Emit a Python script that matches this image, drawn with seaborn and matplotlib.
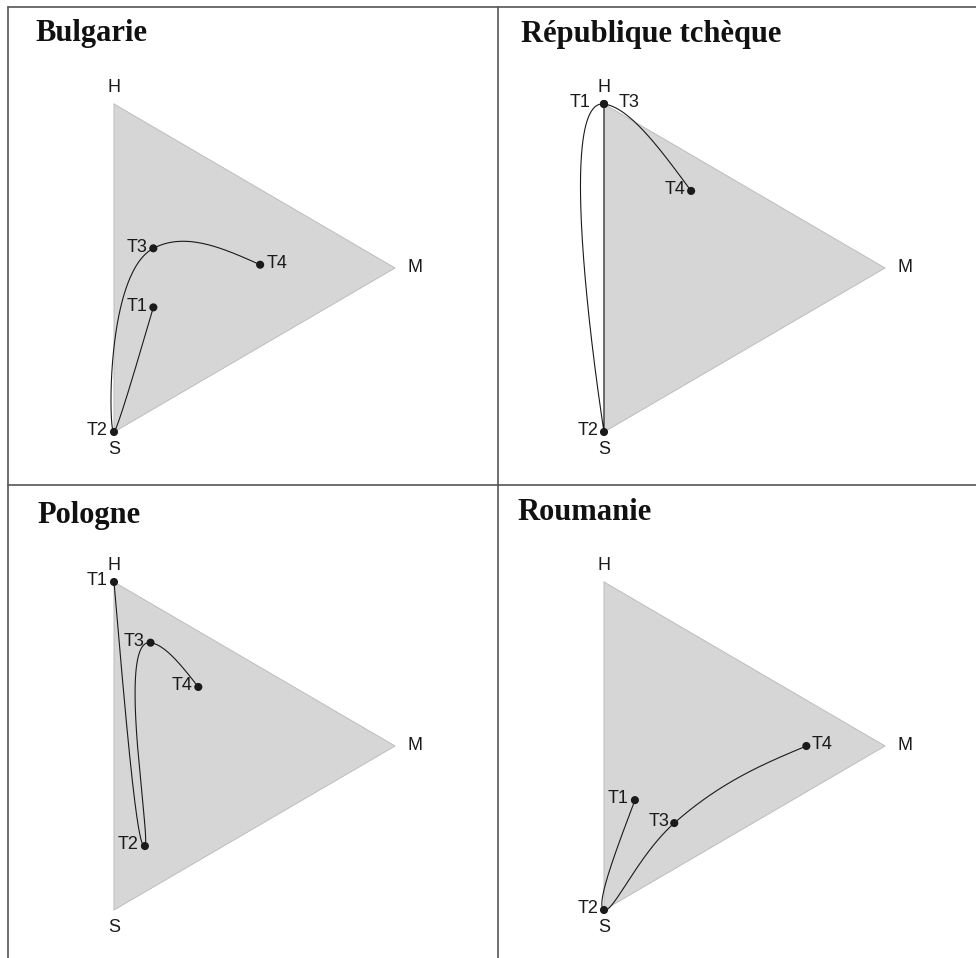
import numpy as np
import matplotlib
matplotlib.use('Agg')
import matplotlib.pyplot as plt
from matplotlib.lines import Line2D
import seaborn as sns

# Data: shares (%) of H, M and S at each survey wave
countries = ['Bulgarie', 'République tchèque', 'Pologne', 'Roumanie']
waves = ['T1', 'T2', 'T3', 'T4']
share_h = {
    'Bulgarie': [31, 0, 49, 25],
    'République tchèque': [100, 0, 100, 58],
    'Pologne': [100, 14, 75, 53],
    'Roumanie': [28, 0, 14, 14],
}
share_m = {
    'Bulgarie': [14, 0, 14, 52],
    'République tchèque': [0, 0, 0, 31],
    'Pologne': [0, 11, 13, 30],
    'Roumanie': [11, 0, 25, 72],
}
share_s = {
    'Bulgarie': [55, 100, 37, 23],
    'République tchèque': [0, 100, 0, 11],
    'Pologne': [0, 75, 12, 17],
    'Roumanie': [61, 100, 61, 14],
}
vertex_labels = ['H', 'M', 'S']

# label placement (pixels, negative = left of the point)
label_dx = {
    'Bulgarie': [-6, -6, -6, 6],
    'République tchèque': [-14, -6, 15, -6],
    'Pologne': [-6, -6, -6, -6],
    'Roumanie': [-6, -5, -5, 5],
}
title_offset = [(27, 34), (23, 35), (29, 37.5), (19, 34.5)]

W, H = 976, 958
PX_X, PX_Y = 324.5, 328.0  # pixels per data unit
R3 = np.sqrt(3) / 2


def to_xy(h, m):
    h = np.asarray(h) / 100
    m = np.asarray(m) / 100
    return m * R3, h + m / 2


# smooth path through the waves (Catmull-Rom with chord-based knots, natural ends)
def smooth_path(xs, ys, alpha=0.75, k=1.3, steps=200):
    P = np.column_stack([xs, ys]).astype(float)
    n = len(P)
    d = np.linalg.norm(np.diff(P, axis=0), axis=1) ** alpha
    d = np.maximum(d, 1e-9)
    m = np.zeros_like(P)
    for i in range(1, n - 1):
        m[i] = (P[i] - P[i - 1]) / d[i - 1] - (P[i + 1] - P[i - 1]) / (d[i - 1] + d[i]) \
            + (P[i + 1] - P[i]) / d[i]
    u = np.linspace(0, 1, steps, endpoint=False)[:, None]
    h00 = 2 * u ** 3 - 3 * u ** 2 + 1
    h10 = u ** 3 - 2 * u ** 2 + u
    h01 = -2 * u ** 3 + 3 * u ** 2
    h11 = u ** 3 - u ** 2
    out = []
    for i in range(n - 1):
        t0 = m[i] * d[i] * k
        t1 = m[i + 1] * d[i] * k
        if i == 0:
            t0 = (3 * (P[1] - P[0]) - t1) / 2
        if i == n - 2:
            t1 = (3 * (P[i + 1] - P[i]) - t0) / 2
        out.append(h00 * P[i] + h10 * t0 + h01 * P[i + 1] + h11 * t1)
    out.append(P[-1:])
    out = np.vstack(out)
    return out[:, 0], out[:, 1]


sns.set_style('white')
plt.rcParams['font.family'] = ['Liberation Sans', 'DejaVu Sans']

fig = plt.figure(figsize=(W / 100, H / 100), dpi=100)
fig.patch.set_facecolor('white')

panel_w, panel_h = 490, 478
panel_origin = [(8, 7), (498, 7), (8, 485), (498, 485)]

for i, country in enumerate(countries):
    left, top = panel_origin[i]
    ax = fig.add_axes([left / W, 1 - (top + panel_h) / H, panel_w / W, panel_h / H])
    ax.set_xlim(-106 / PX_X, (panel_w - 106) / PX_X)
    ax.set_ylim(-(panel_h - 425) / PX_Y, 425 / PX_Y)
    ax.set_axis_off()

    # triangle H / M / S, filled in two halves
    vx, vy = to_xy([100, 0, 0], [0, 100, 0])
    mid = (0, 0.5)
    ax.fill([vx[0], vx[1], mid[0]], [vy[0], vy[1], mid[1]], color='#d6d6d6', lw=0, zorder=1)
    ax.fill([mid[0], vx[1], vx[2]], [mid[1], vy[1], vy[2]], color='#d6d6d6', lw=0, zorder=1)
    ax.plot(list(vx) + [vx[0]], list(vy) + [vy[0]], color='#bdbdbd', lw=0.7, zorder=2)

    # vertex labels
    vtxt = dict(fontsize=13, color='#1a1a1a', textcoords='offset points', va='center', ha='center')
    ax.annotate('H', (vx[0], vy[0]), xytext=(0, 16 * 0.72), **vtxt)
    ax.annotate('M', (vx[1], vy[1]), xytext=(20 * 0.72, 0), **vtxt)
    ax.annotate('S', (vx[2], vy[2]), xytext=(0, -18 * 0.72), **vtxt)

    # trajectory
    px, py = to_xy(share_h[country], share_m[country])
    cx, cy = smooth_path(px, py)
    ax.plot(cx, cy, color='#1a1a1a', lw=0.8, zorder=3)
    sns.scatterplot(x=px, y=py, ax=ax, color='#1a1a1a', s=34, edgecolor='none', zorder=4)

    for j, w in enumerate(waves):
        dx = label_dx[country][j]
        ax.annotate(w, (px[j], py[j]), xytext=(dx * 0.72, 1.2 * 0.72), textcoords='offset points',
                    ha='right' if dx < 0 else 'left', va='center', fontsize=13, color='#1a1a1a', zorder=5)

    tx, ty = title_offset[i]
    fig.text((left + tx) / W, 1 - (top + ty) / H, country, fontsize=22, fontweight='bold',
             family=['Liberation Serif', 'DejaVu Serif'], color='#111111', va='baseline', ha='left')

# panel borders
border = dict(color='#555555', lw=1.2, transform=fig.transFigure)
fig.add_artist(Line2D([8 / W, 8 / W], [1 - 7 / H, 0], **border))
fig.add_artist(Line2D([498 / W, 498 / W], [1 - 7 / H, 0], **border))
fig.add_artist(Line2D([8 / W, 1], [1 - 7 / H, 1 - 7 / H], **border))
fig.add_artist(Line2D([8 / W, 1], [1 - 485 / H, 1 - 485 / H], **border))

fig.savefig('out.png', dpi=100, facecolor='white')
